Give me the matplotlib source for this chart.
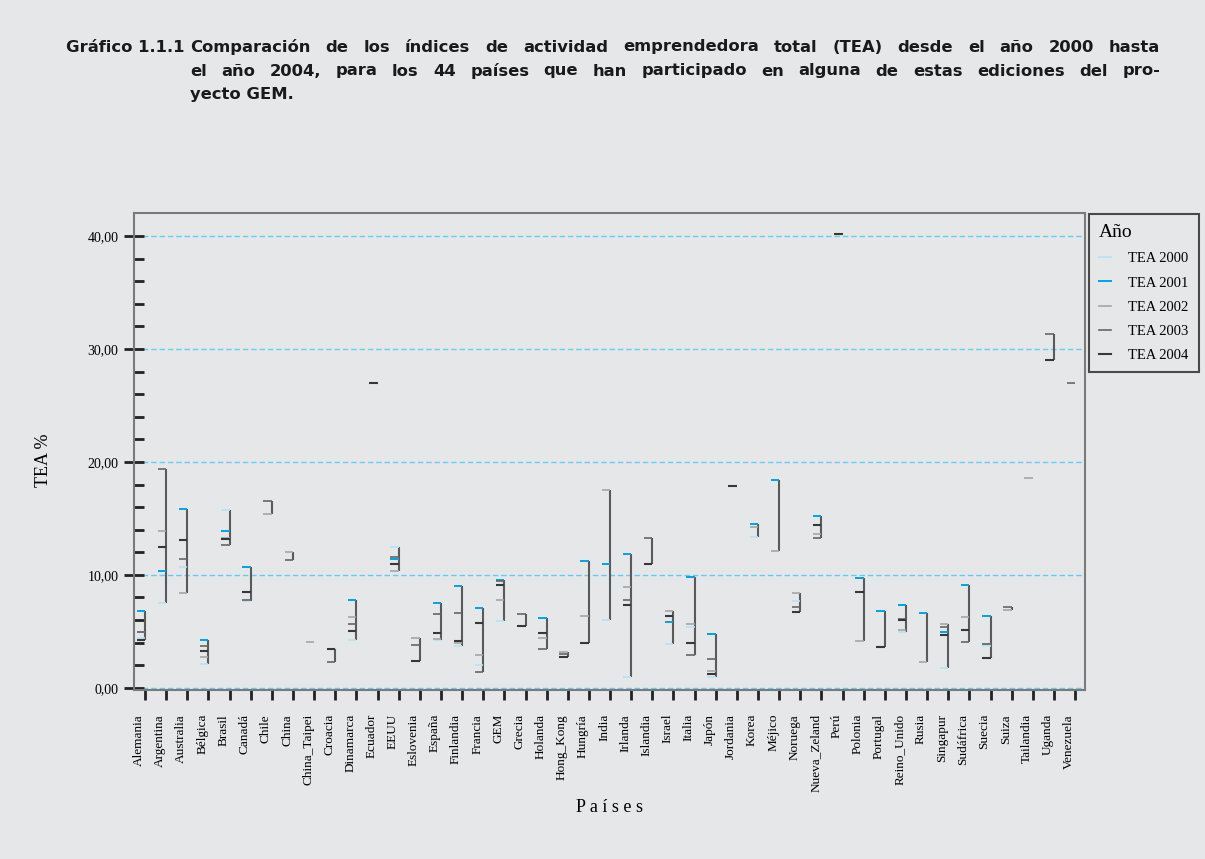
import numpy as np
import matplotlib
matplotlib.use("Agg")
import matplotlib.pyplot as plt
import matplotlib.transforms as mtransforms
from matplotlib.lines import Line2D

nan = np.nan

paises = ['Alemania', 'Argentina', 'Australia', 'Bélgica', 'Brasil', 'Canadá',
          'Chile', 'China', 'China_Taipei', 'Croacia', 'Dinamarca', 'Ecuador',
          'EEUU', 'Eslovenia', 'España', 'Finlandia', 'Francia', 'GEM', 'Grecia',
          'Holanda', 'Hong_Kong', 'Hungría', 'India', 'Irlanda', 'Islandia',
          'Israel', 'Italia', 'Japón', 'Jordania', 'Korea', 'Méjico', 'Noruega',
          'Nueva_Zeland', 'Perú', 'Polonia', 'Portugal', 'Reino_Unido', 'Rusia',
          'Singapur', 'Sudáfrica', 'Suecia', 'Suiza', 'Tailandia', 'Uganda',
          'Venezuela']

# valores TEA (%), nan = el pais no participo ese año
tea_2000 = [4.42, 7.46, 10.65, 2.06, 15.78, 7.7, nan, nan, nan, nan, 4.19, nan,
            12.42, nan, 4.19, 3.66, 1.98, 5.87, nan, nan, nan, nan, 5.96, 0.91,
            nan, 3.83, 5.34, 0.91, nan, 13.39, nan, 7.64, nan, nan, nan, nan,
            4.9, nan, 1.71, nan, 3.69, nan, nan, nan, nan]
tea_2001 = [6.76, 10.3, 15.87, 4.19, 13.92, 10.65, nan, nan, nan, nan, 7.73, nan,
            11.36, nan, 7.46, 8.97, 7.02, 9.5, nan, 6.14, nan, 11.18, 11.0, 11.8,
            nan, 5.78, 9.85, 4.72, nan, 14.54, 18.44, nan, 15.25, nan, 9.68, 6.76,
            7.37, 6.58, 4.9, 9.14, 6.31, nan, nan, nan, nan]
tea_2002 = [4.95, 13.9, 8.35, 2.68, 13.27, 8.5, 15.43, 12.06, 4.01, 3.45, 6.22, nan,
            10.3, 4.37, 4.34, 4.0, 2.86, 7.73, nan, 4.37, 3.13, 6.31, 17.55, 8.88,
            10.94, 6.76, 5.6, 1.45, nan, 14.28, 12.15, 8.35, 13.66, nan, 4.1, nan,
            5.07, 2.24, 5.6, 6.22, 3.85, 6.84, 18.6, nan, nan]
tea_2003 = [4.9, 19.4, 11.36, 3.66, 12.6, 7.75, 16.58, 11.27, nan, 2.24, 5.6, nan,
            11.62, 3.75, 6.49, 6.58, 1.36, 9.45, 6.49, 3.39, 2.95, nan, nan, 7.73,
            13.24, nan, 2.86, 2.51, nan, nan, nan, 7.11, 13.3, nan, nan, nan,
            6.1, nan, 5.37, 4.01, 3.83, 7.11, nan, 31.3, 27.0]
tea_2004 = [4.25, 12.5, 13.04, 3.22, 13.13, 8.5, nan, nan, nan, 3.45, 4.99, 27.0,
            11.0, 2.36, 4.87, 4.13, 5.72, 9.14, 5.49, 4.87, 2.68, 3.98, nan, 7.37,
            10.94, 6.37, 3.98, 1.18, 17.9, nan, nan, 6.7, 14.4, 40.2, 8.5, 3.6,
            5.96, nan, 4.63, 5.1, 2.6, nan, nan, 29.0, nan]

anos = ['TEA 2000', 'TEA 2001', 'TEA 2002', 'TEA 2003', 'TEA 2004']
series = [tea_2000, tea_2001, tea_2002, tea_2003, tea_2004]
colores = ['#b3e3f4', '#00a3e0', '#a6a6a6', '#666666', '#383838']
grosores = [1.2, 1.4, 1.2, 1.2, 1.5]

fondo = '#e6e7e8'
plt.rcParams['font.family'] = ['Liberation Serif', 'DejaVu Serif']

W, H = 1205, 859
fig = plt.figure(figsize=(W / 100, H / 100), dpi=100, facecolor=fondo)
ax = fig.add_axes([0.111, 0.1964, 0.7894, 0.5556], facecolor=fondo)

x = np.arange(len(paises))
datos = np.array(series, dtype=float)

# linea vertical del minimo al maximo de cada pais
mins = np.nanmin(datos, axis=0)
maxs = np.nanmax(datos, axis=0)
ax.vlines(x, mins, maxs, colors='#5a5a5a', lw=1.5, zorder=3)

# marca horizontal para cada año
for vals, c, lw in zip(series, colores, grosores):
    vals = np.array(vals, dtype=float)
    ok = ~np.isnan(vals)
    ax.hlines(vals[ok], x[ok] - 0.4, x[ok], colors=c, lw=lw, zorder=4)

ax.set_xlim(-0.535, 44.47)
ax.set_ylim(-0.23, 42.05)

ax.set_yticks([0, 10, 20, 30, 40])
ax.set_yticklabels(['0,00', '10,00', '20,00', '30,00', '40,00'], fontsize=10)
ax.set_yticks(np.arange(2, 42, 2), minor=True)
ax.yaxis.grid(True, which='major', color='#66ccf5', ls=(0, (4, 2)), lw=1)
ax.set_axisbelow(True)

ax.tick_params(axis='y', which='major', direction='inout', length=14, width=2,
               color='#222222', pad=4)
ax.tick_params(axis='y', which='minor', direction='in', length=7, width=2,
               color='#222222')
ax.set_xticks(x)
ax.set_xticklabels(paises, rotation=90, fontsize=9.5)
ax.tick_params(axis='x', direction='out', length=7, width=2, color='#222222', pad=10)
desplaza = mtransforms.ScaledTranslation(-0.06, 0, fig.dpi_scale_trans)
for lab in ax.get_xticklabels():
    lab.set_transform(lab.get_transform() + desplaza)

for s in ax.spines.values():
    s.set_color('#7a7a7a')
    s.set_linewidth(1.5)

fig.text(610 / W, 1 - 808 / H, 'P a í s e s', ha='center', va='center', fontsize=13)
fig.text(43 / W, 1 - 460 / H, 'TEA %', ha='center', va='center', fontsize=13,
         rotation=90)

# titulo con sangria francesa y lineas justificadas
estilo = dict(va='center', fontsize=11.8, fontweight='bold', family='DejaVu Sans',
              color='#1a1a1a')
render = fig.canvas.get_renderer()


def linea_justificada(texto, y, x0, x1):
    palabras = texto.split()
    objs = [fig.text(0, 1 - y / H, p, ha='left', **estilo) for p in palabras]
    anchos = [o.get_window_extent(render).width for o in objs]
    hueco = ((x1 - x0) - sum(anchos)) / (len(palabras) - 1)
    pos = x0
    for o, w in zip(objs, anchos):
        o.set_x(pos / W)
        pos += w + hueco


fig.text(66 / W, 1 - 47 / H, 'Gráfico 1.1.1', ha='left', **estilo)
linea_justificada('Comparación de los índices de actividad emprendedora total (TEA) desde el año 2000 hasta',
                  47, 190, 1160)
linea_justificada('el año 2004, para los 44 países que han participado en alguna de estas ediciones del pro-',
                  71, 190, 1160)
fig.text(190 / W, 1 - 95 / H, 'yecto GEM.', ha='left', **estilo)

manejadores = [Line2D([], [], color=c, lw=lw) for c, lw in zip(colores, grosores)]
leg = fig.legend(manejadores, anos, title='Año', loc='upper left',
                 bbox_to_anchor=(1089 / W, 1 - 214 / H), borderaxespad=0,
                 fontsize=10.5, title_fontsize=14, handlelength=0.8,
                 handletextpad=1.2, labelspacing=0.75, borderpad=0.7,
                 frameon=True, fancybox=False)
leg._legend_box.align = 'left'
leg.get_frame().set_edgecolor('#222222')
leg.get_frame().set_linewidth(1.5)
leg.get_frame().set_facecolor(fondo)

fig.savefig('out.png', dpi=100, facecolor=fondo)
